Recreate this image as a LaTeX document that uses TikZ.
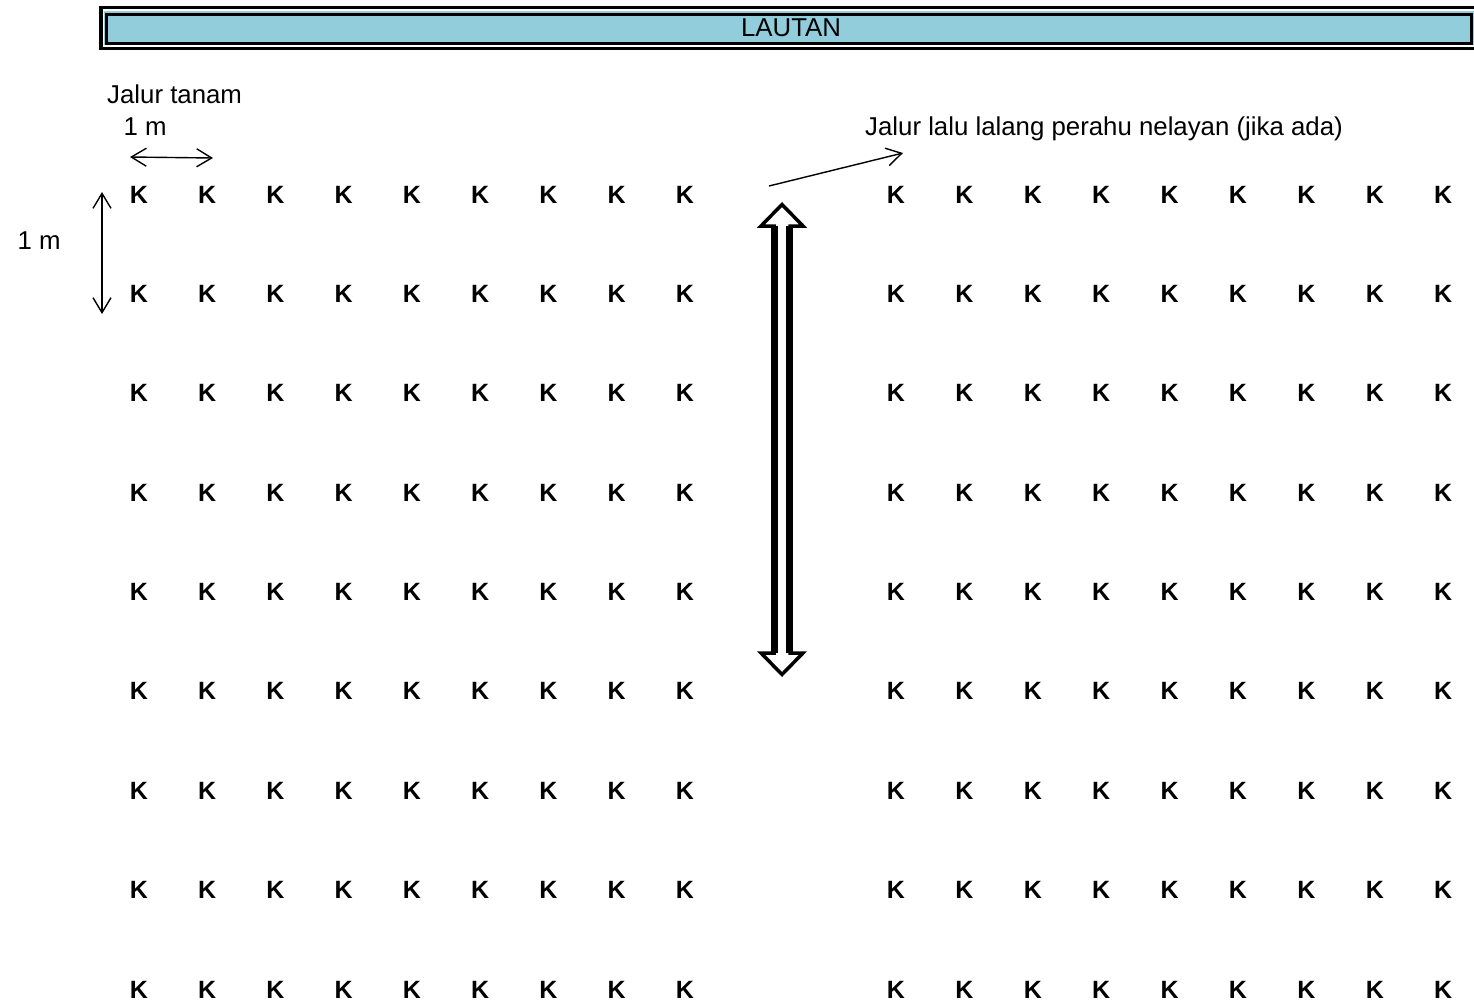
\documentclass[tikz,border=0pt]{standalone}
\usepackage{fontspec}
\setmainfont{Liberation Sans}
\usetikzlibrary{arrows.meta}
\definecolor{seablue}{HTML}{92CDDC}
\begin{document}
\begin{tikzpicture}[x=1pt,y=-1pt,
  txt/.style={inner sep=0pt, anchor=base west, font=\fontsize{25.8}{30}\selectfont},
  kk/.style={inner sep=0pt, anchor=base, font=\fontsize{25}{28}\selectfont\bfseries},
  dimarrow/.style={line width=1.4pt, {Straight Barb[length=15pt,width=18pt]}-{Straight Barb[length=15pt,width=18pt]}},
  pointer/.style={line width=1.4pt, -{Straight Barb[length=15pt,width=18pt]}},
  hollow/.style={line width=3.5pt, line join=miter, fill=white},
  shaftline/.style={line width=6.5pt}
]
\useasboundingbox (0,0) rectangle (1474,1004);
% banner
\draw[line width=3.4pt] (101,7.7) rectangle (1495,48.3);
\fill[seablue] (103.8,10.6) rectangle (1495,45.4);
\draw[line width=3.3pt, fill=seablue] (106.3,14.3) rectangle (1471.6,43.3);
\node[txt, anchor=base] (lautan) at (791,36) {LAUTAN};
% labels
\node[txt] (jtanam) at (107,103) {Jalur tanam};
\node[txt] (mtop) at (123.5,135) {1 m};
\node[txt] (mleft) at (17.5,249) {1 m};
\node[txt] (jlalu) at (865,135) {Jalur lalu lalang perahu nelayan (jika ada)};
% K grid
\foreach \r in {0,...,8} {
  \foreach \c in {0,...,8} {
    \node[kk] (kL\r\c) at ({139+68.25*\c}, {203+99.375*\r}) {K};
    \node[kk] (kR\r\c) at ({896+68.4*\c}, {203+99.375*\r}) {K};
  }
}
% dimension arrows
\coordinate (hA) at (130,157);
\coordinate (hB) at (213,158);
\draw[dimarrow] (hA) -- (hB);
\coordinate (vA) at (102,192);
\coordinate (vB) at (102,314);
\draw[dimarrow] (vA) -- (vB);
% pointer to boat lane label
\coordinate (pS) at (769,186);
\coordinate (pE) at (903,153);
\draw[pointer] (pS) -- (pE);
% hollow double arrow (boat lane)
\coordinate (bigtop) at (782,204.5);
\coordinate (bigbot) at (782,674.5);
\draw[hollow] (bigtop) -- (803,226) -- (790,226) -- (790,653) -- (803,653) -- (bigbot)
  -- (761,653) -- (774,653) -- (774,226) -- (761,226) -- cycle;
\draw[shaftline] (774.5,226) -- (774.5,653) (789.5,226) -- (789.5,653);
\end{tikzpicture}
\end{document}
